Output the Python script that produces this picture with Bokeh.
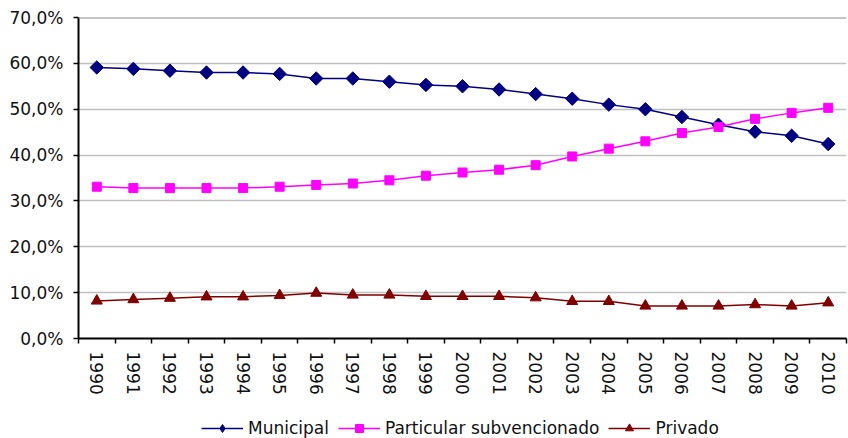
import math
from bokeh.plotting import figure
from bokeh.layouts import column
from bokeh.models import FixedTicker, Legend, LegendItem, Span, Range1d
from bokeh.embed import file_html
from bokeh.resources import INLINE

years = [str(y) for y in range(1990, 2011)]
municipal = [59.1, 58.8, 58.4, 58.0, 58.0, 57.7, 56.7, 56.7, 56.0, 55.3, 55.0,
             54.3, 53.3, 52.3, 51.0, 50.0, 48.3, 46.6, 45.1, 44.2, 42.4]
particular = [33.1, 32.8, 32.8, 32.8, 32.8, 33.1, 33.5, 33.8, 34.5, 35.5, 36.2,
              36.8, 37.8, 39.7, 41.4, 43.0, 44.8, 46.1, 47.9, 49.2, 50.3]
privado = [8.2, 8.5, 8.8, 9.1, 9.1, 9.4, 9.9, 9.5, 9.5, 9.2, 9.2,
           9.2, 8.9, 8.1, 8.1, 7.1, 7.1, 7.1, 7.4, 7.1, 7.8]
series_names = ["Municipal", "Particular subvencionado", "Privado"]
y_ticks = [0, 10, 20, 30, 40, 50, 60, 70]
y_labels = ["0,0%", "10,0%", "20,0%", "30,0%", "40,0%", "50,0%", "60,0%", "70,0%"]

FONT = "DejaVu Sans"
FS = "17px"
C_MUN, C_PAR, C_PRI = "#000080", "#FF00FF", "#800000"

xs = list(range(len(years)))

p = figure(width=848, height=400, output_backend="svg", toolbar_location=None,
           x_range=Range1d(-0.5, len(years) - 0.5), y_range=Range1d(0, 70),
           min_border_left=78, min_border_right=2, min_border_top=17, min_border_bottom=62)
p.outline_line_color = None
p.background_fill_color = "white"
p.border_fill_color = "white"

# axes
p.xaxis.ticker = FixedTicker(ticks=xs, minor_ticks=[i - 0.5 for i in range(len(years) + 1)])
p.xaxis.major_label_overrides = {i: y for i, y in zip(xs, years)}
p.xaxis.major_label_orientation = -math.pi / 2
p.xaxis.major_tick_out = 0
p.xaxis.major_tick_in = 0
p.xaxis.minor_tick_out = 5
p.xaxis.minor_tick_in = 0
p.xaxis.minor_tick_line_color = "black"
p.xaxis.minor_tick_line_width = 1.5
p.xaxis.axis_line_color = "black"
p.xaxis.axis_line_width = 2
p.xaxis.major_label_standoff = 8

p.yaxis.ticker = FixedTicker(ticks=y_ticks, minor_ticks=[])
p.yaxis.major_label_overrides = {t: l for t, l in zip(y_ticks, y_labels)}
p.yaxis.major_tick_out = 5
p.yaxis.major_tick_in = 0
p.yaxis.major_tick_line_color = "black"
p.yaxis.major_tick_line_width = 1.5
p.yaxis.axis_line_color = "black"
p.yaxis.axis_line_width = 2
p.yaxis.major_label_standoff = 10

for ax in (p.xaxis, p.yaxis):
    ax.major_label_text_font = FONT
    ax.major_label_text_font_size = FS
    ax.major_label_text_color = "#111111"

p.xgrid.grid_line_color = None
p.ygrid.ticker = FixedTicker(ticks=y_ticks[1:-1])
p.ygrid.grid_line_color = "#c0c0c0"
p.ygrid.grid_line_width = 1.5
p.add_layout(Span(location=y_ticks[-1], dimension="width", line_color="#8c8c8c", line_width=2))

# series: (values, colour, marker, size, angle, legend marker, legend size)
styles = [(municipal, C_MUN, "square", 9.5, math.pi / 4, "diamond", 14),
          (particular, C_PAR, "square", 9, 0.0, "square", 9),
          (privado, C_PRI, "triangle", 11, 0.0, "triangle", 11)]
for vals, col, mk, sz, ang, _, _ in styles:
    p.line(xs, vals, line_color=col, line_width=1.5)
    p.scatter(xs, vals, marker=mk, size=sz, angle=ang, fill_color=col, line_color=col)

# legend in a separate strip below (its frame is aligned with the chart's frame)
lf = figure(width=848, height=38, output_backend="svg", toolbar_location=None,
            x_range=Range1d(1000, 1001), y_range=Range1d(1000, 1001),
            min_border_left=0, min_border_right=0, min_border_top=0, min_border_bottom=0)
lf.axis.visible = False
lf.grid.grid_line_color = None
lf.outline_line_color = None
lf.border_fill_color = "white"
items = []
for name, (vals, col, _, _, _, lmk, lsz) in zip(series_names, styles):
    lr = lf.line(xs, vals, line_color=col, line_width=1.5)
    sr = lf.scatter(xs, vals, marker=lmk, size=lsz, fill_color=col, line_color=col)
    items.append(LegendItem(label=name, renderers=[lr, sr]))

legend = Legend(items=items, orientation="horizontal", location=(123, 0))
legend.label_text_font = FONT
legend.label_text_font_size = FS
legend.label_text_color = "#111111"
legend.glyph_width = 42
legend.glyph_height = 20
legend.label_standoff = 5
legend.spacing = 9
legend.border_line_color = None
legend.background_fill_alpha = 0
legend.padding = 0
legend.margin = 0
lf.add_layout(legend, "center")

layout = column(p, lf, spacing=0)
open("out.html", "w").write(file_html(layout, INLINE))
